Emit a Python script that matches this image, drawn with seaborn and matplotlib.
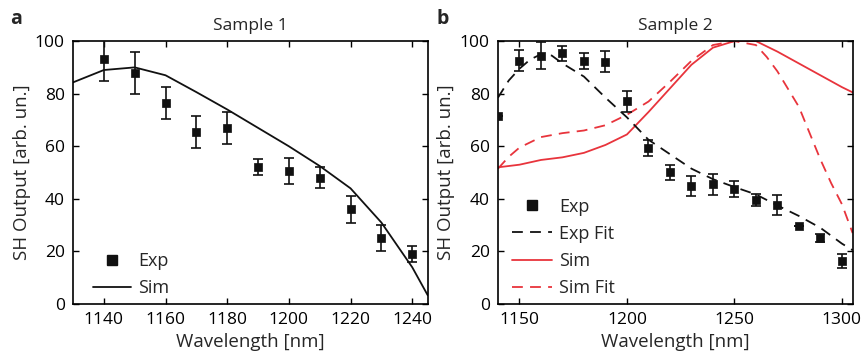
import numpy as np
import pandas as pd
import matplotlib
matplotlib.use("Agg")
import matplotlib.pyplot as plt
import seaborn as sns
from matplotlib.lines import Line2D

# ---------------- data ----------------
s1_exp_x = [1140, 1150, 1160, 1170, 1180, 1190, 1200, 1210, 1220, 1230, 1240]
s1_exp_y = [93, 88, 76.5, 65.5, 67, 52, 50.5, 48, 36, 25, 19]
s1_exp_err = [8, 8, 6, 6, 6, 3, 5, 4, 5, 5, 3]

s1_sim_x = [1130, 1140, 1150, 1160, 1170, 1180, 1190, 1200, 1210, 1220, 1230, 1240, 1245]
s1_sim_y = [84.3, 89, 90, 87, 80.6, 74, 67, 60, 52.5, 44, 31, 14, 3.4]

s2_exp_x = [1140, 1150, 1160, 1170, 1180, 1190, 1200, 1210, 1220, 1230,
            1240, 1250, 1260, 1270, 1280, 1290, 1300]
s2_exp_y = [71.5, 92.5, 94.5, 95.3, 92.5, 92.1, 77.1, 59.2, 50.1, 45,
            45.5, 43.7, 39.5, 37.6, 29.8, 25.2, 16.3]
s2_exp_err = [0, 4, 5, 3, 3, 4, 4, 3, 2.8, 3.8, 4, 3, 2.2, 3.8, 0, 1.6, 2.6]

s2_fit_x = [1140, 1145, 1150, 1155, 1160, 1165, 1170, 1175, 1180, 1190, 1200,
            1210, 1220, 1230, 1240, 1250, 1260, 1270, 1280, 1290, 1300, 1305]
s2_fit_y = [78.5, 85, 89.5, 93, 95, 94.5, 91.5, 89, 86.5, 78.5, 71,
            62.5, 57, 51.5, 47.5, 44.5, 41.7, 37.5, 33.5, 29, 23, 20.5]

s2_sim_x = [1140, 1150, 1160, 1170, 1180, 1190, 1200, 1210, 1220, 1230,
            1240, 1250, 1260, 1270, 1280, 1290, 1300, 1305]
s2_sim_y = [52, 53, 54.8, 55.8, 57.5, 60.5, 64.5, 73, 82, 91,
            97.5, 100, 100, 96, 91.5, 87, 82.5, 80.5]

s2_simfit_x = [1140, 1145, 1150, 1160, 1170, 1180, 1190, 1200, 1210, 1220, 1230,
               1240, 1250, 1260, 1265, 1270, 1280, 1290, 1295, 1300, 1305]
s2_simfit_y = [51.5, 56, 59.5, 63.5, 65, 66, 68, 72, 77, 84.5, 92.5,
               98.5, 100, 98.5, 94, 88.5, 75, 55, 46, 38, 27]

# ---------------- style ----------------
sns.set_style("ticks")
plt.rcParams['font.family'] = ['Open Sans', 'DejaVu Sans']
plt.rcParams['font.size'] = 12.5

RED = '#e8343c'
BLACK = '#111111'
TICK_FS = 12.5
LABEL_FS = 13.5
LEG_FS = 13

fig = plt.figure(figsize=(8.65, 3.62), dpi=100)
ax1 = fig.add_axes([0.0844, 0.160, 0.410, 0.7265])
ax2 = fig.add_axes([0.5757, 0.160, 0.410, 0.7265])


def style_axis(ax, xlim, xticks):
    ax.set_xlim(*xlim)
    ax.set_ylim(0, 100)
    ax.set_xticks(xticks)
    ax.set_yticks([0, 20, 40, 60, 80, 100])
    ax.tick_params(direction='in', top=True, right=True, length=4, width=1,
                   labelsize=TICK_FS, pad=6, colors='black')
    for s in ax.spines.values():
        s.set_visible(True)
        s.set_linewidth(1.2)
        s.set_color('black')
    ax.set_xlabel('Wavelength [nm]', fontsize=LABEL_FS, labelpad=3)
    ax.set_ylabel('SH Output [arb. un.]', fontsize=LABEL_FS, labelpad=3)


# ---- panel a ----
df1e = pd.DataFrame({'x': s1_exp_x, 'y': s1_exp_y})
df1s = pd.DataFrame({'x': s1_sim_x, 'y': s1_sim_y})
sns.lineplot(data=df1s, x='x', y='y', ax=ax1, color=BLACK, lw=1.3)
ax1.errorbar(s1_exp_x, s1_exp_y, yerr=s1_exp_err, fmt='none', ecolor=BLACK,
             elinewidth=1.2, capsize=3.5, capthick=1.2, zorder=3)
sns.scatterplot(data=df1e, x='x', y='y', ax=ax1, marker='s', color=BLACK,
                s=40, edgecolor=BLACK, zorder=4)
style_axis(ax1, (1130, 1245), [1140, 1160, 1180, 1200, 1220, 1240])
ax1.set_title('Sample 1', fontsize=TICK_FS, pad=8)
fig.text(0.012, 0.935, 'a', fontsize=14, fontweight='bold')

h1 = [Line2D([], [], ls='none', marker='s', color=BLACK, ms=7),
      Line2D([], [], color=BLACK, lw=1.3)]
ax1.legend(h1, ['Exp', 'Sim'], loc='lower left', frameon=False, fontsize=LEG_FS,
           handlelength=2.1, bbox_to_anchor=(0.036, 0.0), labelspacing=0.5,
           handletextpad=0.4, borderaxespad=0.0)

# ---- panel b ----
df2e = pd.DataFrame({'x': s2_exp_x, 'y': s2_exp_y})
df2f = pd.DataFrame({'x': s2_fit_x, 'y': s2_fit_y})
df2s = pd.DataFrame({'x': s2_sim_x, 'y': s2_sim_y})
df2sf = pd.DataFrame({'x': s2_simfit_x, 'y': s2_simfit_y})

sns.lineplot(data=df2s, x='x', y='y', ax=ax2, color=RED, lw=1.3)
sns.lineplot(data=df2sf, x='x', y='y', ax=ax2, color=RED, lw=1.3)
ax2.lines[-1].set_dashes((6, 4))
sns.lineplot(data=df2f, x='x', y='y', ax=ax2, color=BLACK, lw=1.3)
ax2.lines[-1].set_dashes((6, 4))
ax2.errorbar(s2_exp_x, s2_exp_y, yerr=s2_exp_err, fmt='none', ecolor=BLACK,
             elinewidth=1.2, capsize=3.5, capthick=1.2, zorder=3)
sns.scatterplot(data=df2e, x='x', y='y', ax=ax2, marker='s', color=BLACK,
                s=40, edgecolor=BLACK, zorder=4)
style_axis(ax2, (1140, 1305), [1150, 1200, 1250, 1300])
ax2.set_title('Sample 2', fontsize=TICK_FS, pad=8)
fig.text(0.505, 0.935, 'b', fontsize=14, fontweight='bold')

h2 = [Line2D([], [], ls='none', marker='s', color=BLACK, ms=7),
      Line2D([], [], color=BLACK, lw=1.3, dashes=(6, 4)),
      Line2D([], [], color=RED, lw=1.3),
      Line2D([], [], color=RED, lw=1.3, dashes=(6, 4))]
ax2.legend(h2, ['Exp', 'Exp Fit', 'Sim', 'Sim Fit'], loc='lower left',
           frameon=False, fontsize=LEG_FS, handlelength=2.2, labelspacing=0.5,
           handletextpad=0.4, borderaxespad=0.0, bbox_to_anchor=(0.019, 0.0))

fig.savefig('out.png', dpi=100)
